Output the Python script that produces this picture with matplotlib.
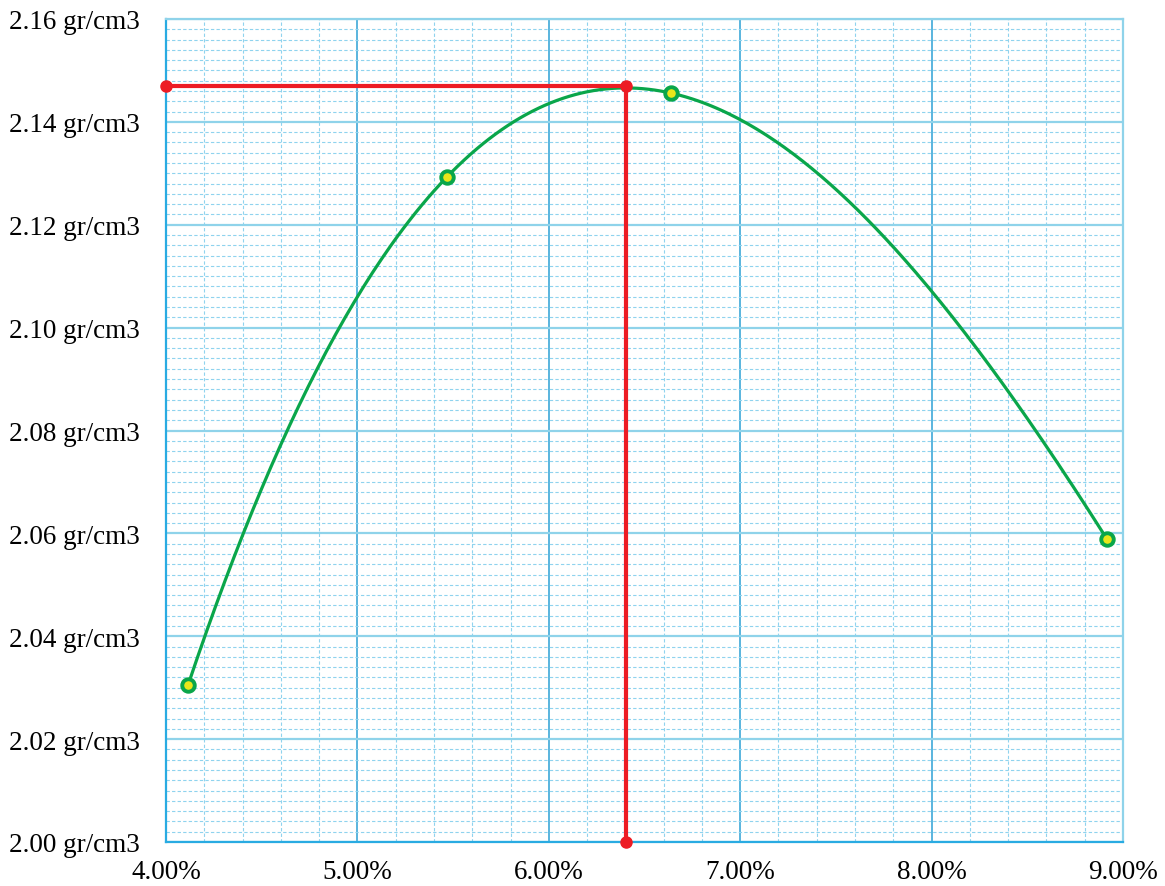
import numpy as np
import matplotlib
matplotlib.use('Agg')
import matplotlib.pyplot as plt
from matplotlib.ticker import MultipleLocator, FuncFormatter

# moisture content (%) and dry density (gr/cm3)
moisture = [4.115, 5.468, 6.638, 8.916]
density = [2.0305, 2.1293, 2.1456, 2.0589]
opt_moisture = 6.403
max_density = 2.147

GREEN = '#0aa64a'
RED = '#ed1c24'

plt.rcParams['font.family'] = ['Liberation Serif', 'DejaVu Serif']

fig = plt.figure(figsize=(11.65, 8.87), dpi=100)
ax = fig.add_axes([166 / 1165, 1 - 843 / 887, (1123 - 166) / 1165, (843 - 20) / 887])

ax.set_xlim(4.0, 9.0)
ax.set_ylim(2.00, 2.16)

ax.xaxis.set_major_locator(MultipleLocator(1.0))
ax.xaxis.set_minor_locator(MultipleLocator(0.2))
ax.yaxis.set_major_locator(MultipleLocator(0.02))
ax.yaxis.set_minor_locator(MultipleLocator(0.002))
ax.xaxis.set_major_formatter(FuncFormatter(lambda v, p: '%.2f%%' % v))
ax.yaxis.set_major_formatter(FuncFormatter(lambda v, p: '%.2f gr/cm3' % v))

ax.grid(True, axis='x', which='major', color='#2ca0d4', lw=1.1)
ax.grid(True, axis='y', which='major', color='#8fd3ea', lw=1.6)
ax.grid(True, axis='both', which='minor', color='#8fd3ee', lw=0.8, ls=(0, (3, 2)))
ax.set_axisbelow(True)
ax.tick_params(which='both', length=0)
ax.tick_params(axis='y', labelsize=19.5, pad=19)
ax.tick_params(axis='x', labelsize=19.5, pad=12)
for s in ax.spines.values():
    s.set_color('#8fd3ea')
    s.set_linewidth(1.6)
ax.spines['left'].set_color('#29abe2')
ax.spines['bottom'].set_color('#29abe2')

# smooth trend through the test points
coef = np.polyfit(moisture, density, 3)
xs = np.linspace(moisture[0], moisture[-1], 300)
ax.plot(xs, np.polyval(coef, xs), color=GREEN, lw=2.3, zorder=3)
ax.plot(moisture, density, 'o', ms=9, mfc='#e8e61a', mec=GREEN, mew=2.8, zorder=4)

# optimum moisture / max density markers
ax.plot([4.0, opt_moisture], [max_density, max_density], color=RED, lw=3, zorder=5, clip_on=False)
ax.plot([opt_moisture, opt_moisture], [max_density, 2.00], color=RED, lw=3, zorder=5, clip_on=False)
ax.plot([4.0, opt_moisture, opt_moisture], [max_density, max_density, 2.00], 'o',
        color=RED, ms=8, zorder=6, clip_on=False)

fig.savefig('out.png', dpi=100)
